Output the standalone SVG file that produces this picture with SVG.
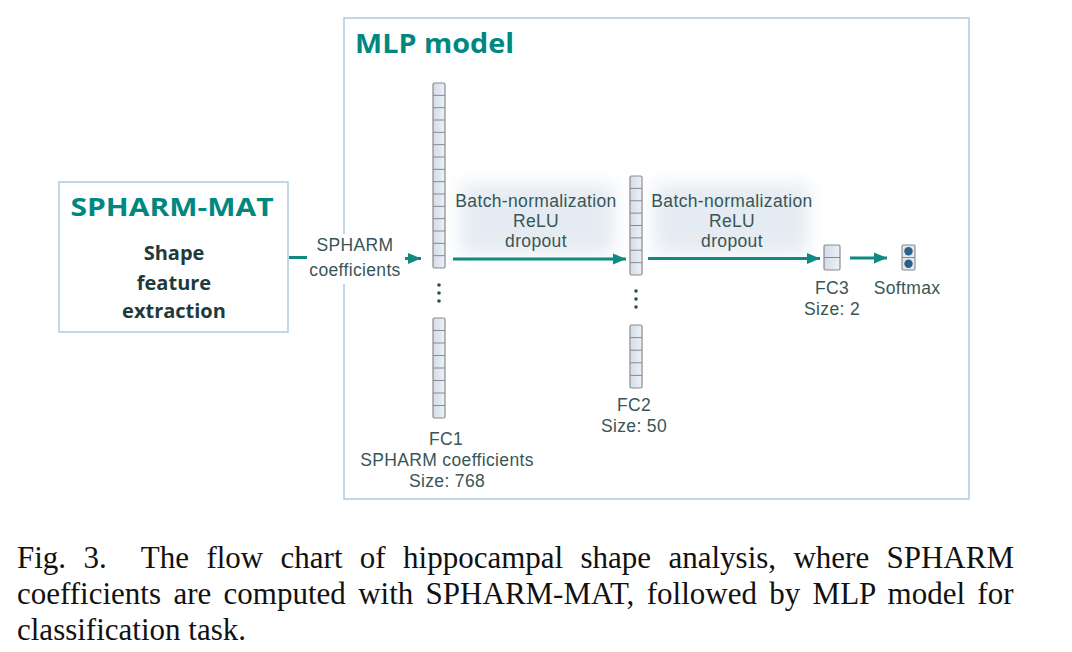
<svg xmlns="http://www.w3.org/2000/svg" width="1072" height="652" viewBox="0 0 1072 652">
<style>
.box{fill:none;stroke:#b3cfe2;stroke-width:1.6}
.title{font-family:"Open Sans","Liberation Sans",sans-serif;font-weight:700;fill:#00877f}
.bold{font-family:"Open Sans","Liberation Sans",sans-serif;font-weight:700;font-size:20px;fill:#1f3a3a;text-anchor:middle}
.lbl{font-family:"Liberation Sans",Arial,sans-serif;font-size:17.5px;letter-spacing:0.35px;fill:#385656;text-anchor:middle}
.col{fill:url(#cellg);stroke:#8a8a8a;stroke-width:1.2}
.cl{fill:none;stroke:#8a8a8a;stroke-width:1}
.dot{fill:#2f4a4a}
.arr{fill:none;stroke:#0f8a80;stroke-width:3}
.cap{font-family:"Liberation Serif","Times New Roman",serif;font-size:31px;fill:#111;white-space:pre}
</style>
<defs>
<linearGradient id="cellg" x1="0" y1="0" x2="1" y2="0">
<stop offset="0" stop-color="#d3dce9"/>
<stop offset="1" stop-color="#edf1f8"/>
</linearGradient>
<filter id="glow" x="-40%" y="-60%" width="180%" height="220%">
<feGaussianBlur stdDeviation="9"/>
</filter>
<marker id="ah" markerWidth="5" markerHeight="5" refX="4.4" refY="2.5" orient="auto" markerUnits="strokeWidth">
<path d="M0,0.6 L4.4,2.5 L0,4.4 Z" fill="#0f8a80"/>
</marker>
</defs>
<rect width="1072" height="652" fill="#fff"/>

<g id="mlp-model">
<rect class="box" x="344" y="18" width="625" height="481"/>
<text class="title" x="355" y="53" font-size="26" textLength="159" lengthAdjust="spacingAndGlyphs">MLP model</text>
</g>

<g id="glows">
<rect x="460" y="184" width="154" height="70" fill="#e5ebf2" filter="url(#glow)"/>
<rect x="654" y="184" width="154" height="70" fill="#e5ebf2" filter="url(#glow)"/>
</g>

<g id="spharm-mat">
<rect class="box" x="59" y="182" width="229" height="150"/>
<text class="title" x="172" y="216" font-size="25" text-anchor="middle" textLength="203" lengthAdjust="spacingAndGlyphs">SPHARM-MAT</text>
<text class="bold"><tspan x="174" y="260">Shape</tspan><tspan x="174" y="290">feature</tspan><tspan x="174" y="318">extraction</tspan></text>
</g>

<g id="fc1">
<rect class="col" x="433" y="83" width="12" height="185" rx="1.5"/>
<path class="cl" d="M433,95.33h12M433,107.67h12M433,120h12M433,132.33h12M433,144.67h12M433,157h12M433,169.33h12M433,181.67h12M433,194h12M433,206.33h12M433,218.67h12M433,231h12M433,243.33h12M433,255.67h12"/>
<circle class="dot" cx="439" cy="285" r="1.8"/>
<circle class="dot" cx="439" cy="293" r="1.8"/>
<circle class="dot" cx="439" cy="301" r="1.8"/>
<rect class="col" x="433" y="318" width="12" height="100" rx="1.5"/>
<path class="cl" d="M433,330.5h12M433,343h12M433,355.5h12M433,368h12M433,380.5h12M433,393h12M433,405.5h12"/>
<text class="lbl"><tspan x="446" y="445">FC1</tspan><tspan x="447" y="466">SPHARM coefficients</tspan><tspan x="447" y="487">Size: 768</tspan></text>
</g>

<g id="fc2">
<rect class="col" x="630" y="176" width="12" height="99" rx="1.5"/>
<path class="cl" d="M630,188.38h12M630,200.75h12M630,213.13h12M630,225.5h12M630,237.88h12M630,250.25h12M630,262.63h12"/>
<circle class="dot" cx="636" cy="291" r="1.8"/>
<circle class="dot" cx="636" cy="299" r="1.8"/>
<circle class="dot" cx="636" cy="307" r="1.8"/>
<rect class="col" x="630" y="325" width="12" height="63" rx="1.5"/>
<path class="cl" d="M630,337.6h12M630,350.2h12M630,362.8h12M630,375.4h12"/>
<text class="lbl"><tspan x="634" y="411">FC2</tspan><tspan x="634" y="432">Size: 50</tspan></text>
</g>

<g id="fc3">
<rect class="col" x="824" y="245" width="16" height="25" rx="1.5"/>
<path class="cl" d="M824,257.5h16"/>
<text class="lbl"><tspan x="832" y="294">FC3</tspan><tspan x="832" y="315">Size: 2</tspan></text>
</g>

<g id="softmax">
<rect x="902" y="245" width="13" height="25" fill="#e3e8ee" stroke="#8a8a8a" stroke-width="1.1" rx="1.2"/>
<path class="cl" d="M902,257.5h13"/>
<circle cx="908.5" cy="251.3" r="4.2" fill="#2c5f8c"/>
<circle cx="908.5" cy="263.7" r="4.2" fill="#2c5f8c"/>
<text class="lbl" x="907" y="294">Softmax</text>
</g>

<g id="connectors">
<rect x="306" y="234" width="100" height="50" fill="#fff"/>
<path class="arr" d="M289,257.5H307"/>
<text class="lbl"><tspan x="355" y="251">SPHARM</tspan><tspan x="355" y="276">coefficients</tspan></text>
<path class="arr" d="M405,258.5H421" marker-end="url(#ah)"/>
<path class="arr" d="M453,259H626" marker-end="url(#ah)"/>
<text class="lbl"><tspan x="536" y="207">Batch-normalization</tspan><tspan x="536" y="227">ReLU</tspan><tspan x="536" y="247">dropout</tspan></text>
<path class="arr" d="M648,258.5H820" marker-end="url(#ah)"/>
<text class="lbl"><tspan x="732" y="207">Batch-normalization</tspan><tspan x="732" y="227">ReLU</tspan><tspan x="732" y="247">dropout</tspan></text>
<path class="arr" d="M850,258H887" marker-end="url(#ah)"/>
</g>

<g id="caption">
<text class="cap" x="17" y="568" word-spacing="9.6">Fig. 3.  The flow chart of hippocampal shape analysis, where SPHARM</text>
<text class="cap" x="17" y="604" word-spacing="4.6">coefficients are computed with SPHARM-MAT, followed by MLP model for</text>
<text class="cap" x="17" y="640">classification task.</text>
</g>
</svg>
